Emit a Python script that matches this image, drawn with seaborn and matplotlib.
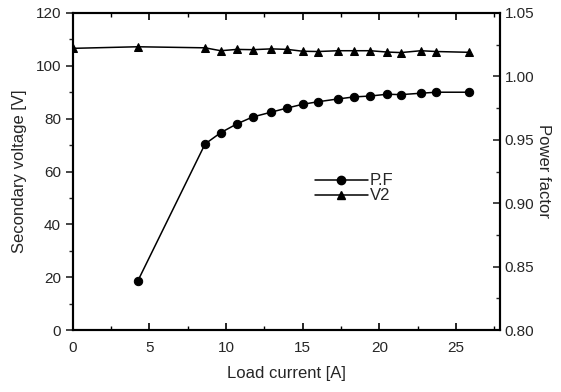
import numpy as np
import matplotlib
matplotlib.use("Agg")
import matplotlib.pyplot as plt
import seaborn as sns
from matplotlib.ticker import MultipleLocator
from matplotlib.lines import Line2D

# Load current [A]
current_v2 = [0.0, 4.24, 8.63, 9.65, 10.7, 11.74, 12.95, 14.0, 15.0, 16.0,
              17.3, 18.35, 19.4, 20.5, 21.4, 22.7, 23.7, 25.85]
# Secondary voltage [V]
v2 = [106.6, 107.2, 106.8, 105.7, 106.2, 106.1, 106.4, 106.2, 105.5, 105.4,
      105.7, 105.7, 105.7, 105.2, 105.0, 105.7, 105.4, 105.1]

current_pf = current_v2[1:]
# Power factor
pf = [0.8386, 0.9467, 0.9556, 0.9625, 0.9680, 0.9718, 0.9751, 0.9780, 0.9800,
      0.9822, 0.9838, 0.9845, 0.9859, 0.9856, 0.9867, 0.9875, 0.9875]

sns.set_style("white")
plt.rcParams['font.family'] = ['Liberation Sans', 'DejaVu Sans']

fig = plt.figure(figsize=(5.61, 3.92), dpi=100)
ax = fig.add_axes([0.1296, 0.158, 0.7614, 0.809])
ax2 = ax.twinx()

sns.lineplot(x=current_v2, y=v2, ax=ax, color="black", marker="^",
             markersize=6, linewidth=1.1, markeredgecolor="black")
sns.lineplot(x=current_pf, y=pf, ax=ax2, color="black", marker="o",
             markersize=6, linewidth=1.1, markeredgecolor="black")

ax.set_xlim(0, 27.85)
ax.set_ylim(0, 120)
ax2.set_ylim(0.80, 1.05)

ax.xaxis.set_major_locator(MultipleLocator(5))
ax.xaxis.set_minor_locator(MultipleLocator(2.5))
ax.yaxis.set_major_locator(MultipleLocator(20))
ax.yaxis.set_minor_locator(MultipleLocator(10))
ax2.yaxis.set_major_locator(MultipleLocator(0.05))
ax2.yaxis.set_minor_locator(MultipleLocator(0.025))
ax2.yaxis.set_major_formatter(matplotlib.ticker.FormatStrFormatter("%.2f"))

for a in (ax, ax2):
    for s in a.spines.values():
        s.set_color("black")
        s.set_linewidth(1.5)

ax.tick_params(axis="x", which="both", direction="in", top=True, bottom=True,
               labelsize=11, color="black", pad=8)
ax.tick_params(axis="x", which="major", length=5, width=1.2)
ax.tick_params(axis="x", which="minor", length=3, width=1)
ax.tick_params(axis="y", which="both", direction="out", left=True, labelsize=11)
ax.tick_params(axis="y", which="major", length=5, width=1.2)
ax.tick_params(axis="y", which="minor", length=3, width=1)
ax2.tick_params(axis="y", which="both", direction="in", right=True, labelsize=11)
ax2.tick_params(axis="y", which="major", length=5, width=1.2)
ax2.tick_params(axis="y", which="minor", length=3, width=1)

ax.set_xlabel("Load current [A]", fontsize=12, labelpad=8)
ax.set_ylabel("Secondary voltage [V]", fontsize=12, labelpad=6)
ax2.set_ylabel("Power factor", fontsize=12, rotation=-90, labelpad=12)

handles = [Line2D([], [], color="black", marker="o", markersize=6, linewidth=1.1),
           Line2D([], [], color="black", marker="^", markersize=6, linewidth=1.1)]
ax.legend(handles, ["P.F", "V2"], loc="upper left", bbox_to_anchor=(0.547, 0.52),
          frameon=False, fontsize=12, handlelength=3.2, handletextpad=0.1,
          labelspacing=0.0, borderpad=0)

fig.savefig("out.png", dpi=100)
